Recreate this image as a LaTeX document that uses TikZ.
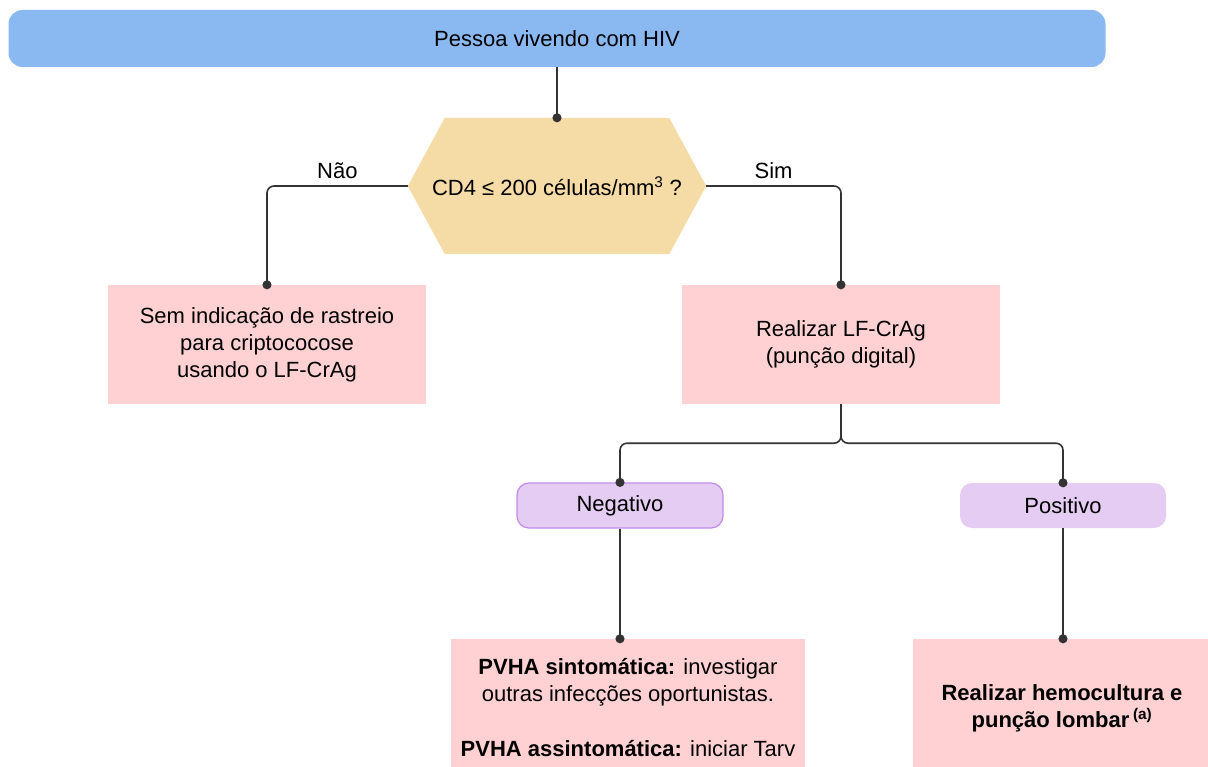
\documentclass[tikz,border=0pt]{standalone}
\usepackage{fontspec}
\setmainfont{Liberation Sans}
\usetikzlibrary{arrows.meta}
\pgfdeclarelayer{bg}
\pgfsetlayers{bg,main}
\definecolor{hivblue}{HTML}{8AB9F2}
\definecolor{hexyellow}{HTML}{F5DCA6}
\definecolor{boxpink}{HTML}{FFD1D2}
\definecolor{respurple}{HTML}{E4CCF2}
\definecolor{resborder}{HTML}{C18AEA}
\definecolor{linegray}{HTML}{333333}
\begin{document}
\begin{tikzpicture}[x=1pt,y=-1pt,
    every node/.style={font=\fontsize{22}{27}\selectfont, align=center, inner sep=0pt},
    box/.style={fill=boxpink, minimum width=318pt, minimum height=119pt},
    result/.style={fill=respurple, rounded corners=12pt, minimum width=206pt, minimum height=45pt},
    link/.style={draw=linegray, line width=1.6pt, rounded corners=7pt, -{Circle[length=9pt]}, shorten >=-4.5pt}]
    \useasboundingbox (0,0) rectangle (1208,767);
    \clip (0,0) rectangle (1208,767);
    \node[fill=hivblue, rounded corners=14pt, minimum width=1097pt, minimum height=57pt] (hiv) at (557,38.5) {Pessoa vivendo com HIV};
    \node[minimum width=298pt, minimum height=136pt] (cd4) at (557,186) {CD4 ≤ 200 células/mm\textsuperscript{3} ?};
    \begin{pgfonlayer}{bg}
    \fill[hexyellow] (cd4.west) -- ([xshift=37pt]cd4.north west) -- ([xshift=-37pt]cd4.north east) -- (cd4.east) -- ([xshift=-37pt]cd4.south east) -- ([xshift=37pt]cd4.south west) -- cycle;
    \end{pgfonlayer}
    \node[box] (sem) at (267,344.5) {Sem indicação de rastreio\\para criptococose\\usando o LF-CrAg};
    \node[box] (lfcrag) at (841,344.5) {Realizar LF-CrAg\\(punção digital)};
    \node[result, draw=resborder, line width=1.2pt] (neg) at (620,505.5) {Negativo};
    \node[result] (pos) at (1063,505.5) {Positivo};
    \node[box, minimum width=354pt, minimum height=138pt] (sint) at (628,708) {\textbf{PVHA sintomática:} investigar\\outras infecções oportunistas.\\[28pt]\textbf{PVHA assintomática:} iniciar Tarv};
    \node[box, minimum width=298pt, minimum height=138pt] (hemo) at (1062,708) {\textbf{Realizar hemocultura e}\\\textbf{punção lombar}\,\textsuperscript{\textbf{(a)}}};
    % connectors
    \draw[link] (hiv) -- (cd4);
    \draw[link] (cd4.west) -| node[pos=0.25,above=6pt]{Não} (sem.north);
    \draw[link] (cd4.east) -| node[pos=0.25,above=6pt]{Sim} (lfcrag.north);
    \draw[link] (lfcrag.south) -- ++(0,39) -| (neg.north);
    \draw[link] (lfcrag.south) -- ++(0,39) -| (pos.north);
    \draw[link] (neg.south) -- (neg.south |- sint.north);
    \draw[link] (pos.south) -- (pos.south |- hemo.north);
\end{tikzpicture}
\end{document}
